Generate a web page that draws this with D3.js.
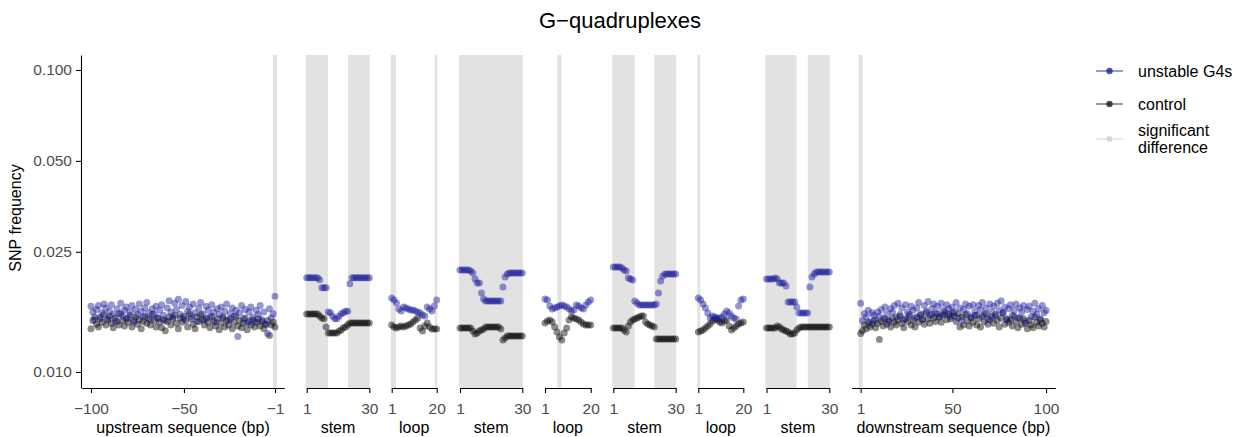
<!DOCTYPE html>
<html>
<head>
<meta charset="utf-8">
<script src="https://cdn.jsdelivr.net/npm/d3@7"></script>
<style>
  body { margin: 0; background: #fff; }
  svg { display: block; }
  text { font-family: "Liberation Sans", Arial, Helvetica, sans-serif; }
</style>
</head>
<body>
<svg id="chart" width="1249" height="437"></svg>
<script>
// ---- SNP frequency per position (unstable G4s vs control) ----
const yTicks = [0.010, 0.025, 0.050, 0.100];

const upBlue = [
  0.0165, 0.0158, 0.0149, 0.0161, 0.0166, 0.0152, 0.0157, 0.0168, 0.0163, 0.0150,
  0.0159, 0.0167, 0.0155, 0.0147, 0.0162, 0.0156, 0.0169, 0.0153, 0.0160, 0.0164,
  0.0151, 0.0158, 0.0166, 0.0146, 0.0161, 0.0155, 0.0168, 0.0159, 0.0152, 0.0163,
  0.0170, 0.0157, 0.0149, 0.0162, 0.0156, 0.0165, 0.0151, 0.0160, 0.0167, 0.0154,
  0.0148, 0.0163, 0.0172, 0.0158, 0.0152, 0.0169, 0.0161, 0.0174, 0.0155, 0.0166,
  0.0150, 0.0171, 0.0159, 0.0164, 0.0153, 0.0168, 0.0157, 0.0147, 0.0163, 0.0170,
  0.0156, 0.0149, 0.0165, 0.0160, 0.0152, 0.0167, 0.0158, 0.0146, 0.0162, 0.0155,
  0.0164, 0.0151, 0.0159, 0.0168, 0.0148, 0.0156, 0.0163, 0.0153, 0.0160, 0.0131,
  0.0157, 0.0166, 0.0150, 0.0161, 0.0145, 0.0158, 0.0164, 0.0152, 0.0147, 0.0160,
  0.0155, 0.0166, 0.0149, 0.0158, 0.0144, 0.0134, 0.0162, 0.0151, 0.0156, 0.0178
];
const upCtrl = [
  0.0139, 0.0148, 0.0152, 0.0144, 0.0141, 0.0150, 0.0146, 0.0155, 0.0143, 0.0149,
  0.0153, 0.0145, 0.0140, 0.0151, 0.0147, 0.0143, 0.0156, 0.0148, 0.0142, 0.0150,
  0.0146, 0.0154, 0.0141, 0.0148, 0.0152, 0.0144, 0.0149, 0.0139, 0.0147, 0.0153,
  0.0145, 0.0150, 0.0143, 0.0155, 0.0148, 0.0141, 0.0151, 0.0146, 0.0140, 0.0149,
  0.0137, 0.0147, 0.0152, 0.0143, 0.0150, 0.0154, 0.0145, 0.0139, 0.0151, 0.0146,
  0.0153, 0.0148, 0.0141, 0.0156, 0.0150, 0.0144, 0.0139, 0.0152, 0.0147, 0.0155,
  0.0149, 0.0143, 0.0151, 0.0146, 0.0140, 0.0153, 0.0147, 0.0142, 0.0150, 0.0138,
  0.0145, 0.0152, 0.0141, 0.0148, 0.0143, 0.0150, 0.0139, 0.0146, 0.0153, 0.0142,
  0.0148, 0.0140, 0.0145, 0.0151, 0.0138, 0.0147, 0.0143, 0.0149, 0.0141, 0.0146,
  0.0150, 0.0142, 0.0147, 0.0139, 0.0144, 0.0148, 0.0132, 0.0143, 0.0146, 0.0141
];

const stem1Blue = [0.0205, 0.0205, 0.0205, 0.0205, 0.0205, 0.0205, 0.0202, 0.0190, 0.0190, 0.0190,
  0.0158, 0.0157, 0.0153, 0.0150, 0.0150, 0.0153, 0.0156, 0.0157, 0.0159, 0.0159,
  0.0196, 0.0205, 0.0205, 0.0205, 0.0205, 0.0205, 0.0205, 0.0205, 0.0205, 0.0205];
const stem1Ctrl = [0.01556, 0.01556, 0.01556, 0.01556, 0.01556, 0.01556, 0.01532, 0.0151, 0.0150, 0.0141,
  0.01346, 0.01346, 0.01346, 0.01346, 0.01346, 0.01367, 0.01377, 0.0140, 0.0141, 0.0143,
  0.01453, 0.01453, 0.01453, 0.01453, 0.01453, 0.01453, 0.01453, 0.01453, 0.01453, 0.01453];

const loop1Blue = [0.01758, 0.01732, 0.01692, 0.01617, 0.01592, 0.01642, 0.01629, 0.01617, 0.01604, 0.01604,
  0.01592, 0.0158, 0.01568, 0.01544, 0.01532, 0.01642, 0.01617, 0.01592, 0.01654, 0.01732];
const loop1Ctrl = [0.01431, 0.01409, 0.01398, 0.01409, 0.0142, 0.01409, 0.0142, 0.01431, 0.01442, 0.01464,
  0.01486, 0.01509, 0.01398, 0.01367, 0.0142, 0.01453, 0.01409, 0.01388, 0.01388, 0.01388];

const stem2Blue = [0.02177, 0.02177, 0.02177, 0.02177, 0.02177, 0.0216, 0.02128, 0.02032, 0.01971, 0.01971,
  0.01826, 0.01745, 0.01718, 0.01718, 0.01718, 0.01718, 0.01718, 0.01718, 0.01718, 0.01718,
  0.01911, 0.02064, 0.02111, 0.02128, 0.02128, 0.02128, 0.02128, 0.02128, 0.02128, 0.02128];
const stem2Ctrl = [0.01398, 0.01398, 0.01398, 0.01398, 0.01398, 0.01398, 0.01367, 0.01336, 0.01346, 0.01367,
  0.01377, 0.01388, 0.01409, 0.01409, 0.01409, 0.01409, 0.01409, 0.01409, 0.01409, 0.01388,
  0.01276, 0.01296, 0.01316, 0.01316, 0.01316, 0.01316, 0.01316, 0.01316, 0.01316, 0.01316];

const loop2Blue = [0.01745, 0.01732, 0.01654, 0.01617, 0.01629, 0.01642, 0.01654, 0.01667, 0.01654, 0.01642,
  0.01617, 0.01592, 0.01604, 0.01667, 0.01654, 0.01629, 0.01617, 0.01667, 0.01705, 0.01732];
const loop2Ctrl = [0.01453, 0.01475, 0.01486, 0.01464, 0.01409, 0.01356, 0.01306, 0.01276, 0.01346, 0.01398,
  0.01486, 0.01521, 0.01509, 0.01498, 0.01486, 0.01464, 0.01442, 0.01431, 0.01431, 0.01431];

const stem3Blue = [0.02227, 0.02227, 0.02227, 0.02227, 0.0221, 0.02177, 0.0216, 0.02048, 0.02032, 0.02017,
  0.01718, 0.01692, 0.01667, 0.01667, 0.01667, 0.01667, 0.01667, 0.01667, 0.01667, 0.01667,
  0.0168, 0.01826, 0.02001, 0.02079, 0.02111, 0.02111, 0.02111, 0.02111, 0.02111, 0.02111];
const stem3Ctrl = [0.01398, 0.01398, 0.01398, 0.01398, 0.01398, 0.01377, 0.01356, 0.0142, 0.01464, 0.01486,
  0.01498, 0.01509, 0.01521, 0.01532, 0.01532, 0.01464, 0.01442, 0.01431, 0.0142, 0.01409,
  0.01286, 0.01286, 0.01286, 0.01286, 0.01286, 0.01286, 0.01286, 0.01286, 0.01286, 0.01286];

const loop3Blue = [0.01758, 0.01732, 0.0168, 0.01629, 0.01568, 0.01509, 0.01532, 0.01521, 0.01509, 0.01509,
  0.01521, 0.01556, 0.01592, 0.01568, 0.01532, 0.01509, 0.01498, 0.01654, 0.01732, 0.01745];
const loop3Ctrl = [0.01356, 0.01367, 0.01377, 0.01398, 0.0142, 0.01442, 0.01475, 0.01498, 0.01486, 0.01464,
  0.01453, 0.01475, 0.01486, 0.0142, 0.01377, 0.01398, 0.0142, 0.01442, 0.01453, 0.01464];

const stem4Blue = [0.02032, 0.02032, 0.02032, 0.02032, 0.02048, 0.02032, 0.01971, 0.01971, 0.01971, 0.01926,
  0.01705, 0.01705, 0.01705, 0.01705, 0.01642, 0.01568, 0.01568, 0.01568, 0.01568, 0.01568,
  0.01911, 0.02064, 0.02111, 0.02144, 0.02144, 0.02144, 0.02144, 0.02144, 0.02144, 0.02144];
const stem4Ctrl = [0.01398, 0.01398, 0.01398, 0.01398, 0.01398, 0.0142, 0.01409, 0.01388, 0.01377, 0.01367,
  0.01356, 0.01336, 0.01336, 0.01346, 0.01377, 0.01398, 0.01409, 0.01409, 0.01409, 0.01409,
  0.01409, 0.01409, 0.01409, 0.01409, 0.01409, 0.01409, 0.01409, 0.01409, 0.01409, 0.01409];

const downBlue = [
  0.0169, 0.0148, 0.0156, 0.0152, 0.0160, 0.0146, 0.0157, 0.0154, 0.0149, 0.0158,
  0.0153, 0.0161, 0.0150, 0.0164, 0.0156, 0.0147, 0.0162, 0.0158, 0.0166, 0.0152,
  0.0169, 0.0155, 0.0163, 0.0149, 0.0167, 0.0158, 0.0153, 0.0165, 0.0160, 0.0151,
  0.0163, 0.0170, 0.0156, 0.0150, 0.0166, 0.0159, 0.0171, 0.0154, 0.0162, 0.0168,
  0.0157, 0.0165, 0.0152, 0.0169, 0.0160, 0.0155, 0.0167, 0.0162, 0.0153, 0.0164,
  0.0158, 0.0170, 0.0151, 0.0163, 0.0148, 0.0161, 0.0168, 0.0156, 0.0165, 0.0152,
  0.0167, 0.0159, 0.0154, 0.0166, 0.0161, 0.0170, 0.0155, 0.0163, 0.0150, 0.0168,
  0.0158, 0.0165, 0.0153, 0.0169, 0.0160, 0.0172, 0.0157, 0.0164, 0.0149, 0.0162,
  0.0167, 0.0154, 0.0160, 0.0168, 0.0151, 0.0163, 0.0158, 0.0166, 0.0147, 0.0161,
  0.0165, 0.0152, 0.0159, 0.0169, 0.0155, 0.0162, 0.0150, 0.0166, 0.0157, 0.0160
];
const downCtrl = [
  0.0134, 0.0137, 0.0143, 0.0139, 0.0146, 0.0141, 0.0144, 0.0148, 0.0140, 0.0145,
  0.0128, 0.0147, 0.0142, 0.0150, 0.0144, 0.0148, 0.0141, 0.0151, 0.0146, 0.0143,
  0.0149, 0.0153, 0.0145, 0.0140, 0.0150, 0.0147, 0.0155, 0.0143, 0.0148, 0.0141,
  0.0152, 0.0146, 0.0154, 0.0149, 0.0144, 0.0157, 0.0150, 0.0145, 0.0155, 0.0151,
  0.0147, 0.0156, 0.0152, 0.0146, 0.0154, 0.0158, 0.0149, 0.0155, 0.0150, 0.0157,
  0.0153, 0.0147, 0.0156, 0.0141, 0.0152, 0.0143, 0.0155, 0.0148, 0.0142, 0.0151,
  0.0146, 0.0154, 0.0143, 0.0150, 0.0141, 0.0153, 0.0147, 0.0156, 0.0144, 0.0149,
  0.0152, 0.0145, 0.0155, 0.0148, 0.0141, 0.0151, 0.0157, 0.0144, 0.0150, 0.0146,
  0.0149, 0.0142, 0.0153, 0.0147, 0.0140, 0.0151, 0.0144, 0.0150, 0.0145, 0.0139,
  0.0148, 0.0143, 0.0140, 0.0152, 0.0146, 0.0142, 0.0149, 0.0145, 0.0141, 0.0147
];

// positions flagged as a significant difference, per region
const upSig = [-1];
const stem1Sig = [1, 2, 3, 4, 5, 6, 7, 8, 9, 10, 21, 22, 23, 24, 25, 26, 27, 28, 29, 30];
const loop1Sig = [1, 2, 20];
const stem2Sig = d3.range(1, 31);
const loop2Sig = [7];
const stem3Sig = [1, 2, 3, 4, 5, 6, 7, 8, 9, 10, 21, 22, 23, 24, 25, 26, 27, 28, 29, 30];
const loop3Sig = [1];
const stem4Sig = [1, 2, 3, 4, 5, 6, 7, 8, 9, 10, 11, 12, 13, 14, 21, 22, 23, 24, 25, 26, 27, 28, 29, 30];
const downSig = [1];

const upTicks = [-100, -50, -1];
const stemTicks = [1, 30];
const loopTicks = [1, 20];
const downTicks = [1, 50, 100];

const seriesNames = ["unstable G4s", "control", "significant\ndifference"];

// ---- panel layout ----
const panels = [
  { label: "upstream sequence (bp)", start: -100, blue: upBlue, ctrl: upCtrl, sig: upSig, ticks: upTicks, px: [81.8, 284.2], expand: true },
  { label: "stem", start: 1, blue: stem1Blue, ctrl: stem1Ctrl, sig: stem1Sig, ticks: stemTicks, px: [306.7, 369.3] },
  { label: "loop", start: 1, blue: loop1Blue, ctrl: loop1Ctrl, sig: loop1Sig, ticks: loopTicks, px: [391.7, 436.7] },
  { label: "stem", start: 1, blue: stem2Blue, ctrl: stem2Ctrl, sig: stem2Sig, ticks: stemTicks, px: [460, 522.3] },
  { label: "loop", start: 1, blue: loop2Blue, ctrl: loop2Ctrl, sig: loop2Sig, ticks: loopTicks, px: [545, 590.7] },
  { label: "stem", start: 1, blue: stem3Blue, ctrl: stem3Ctrl, sig: stem3Sig, ticks: stemTicks, px: [613.3, 675.7] },
  { label: "loop", start: 1, blue: loop3Blue, ctrl: loop3Ctrl, sig: loop3Sig, ticks: loopTicks, px: [698.3, 743.3] },
  { label: "stem", start: 1, blue: stem4Blue, ctrl: stem4Ctrl, sig: stem4Sig, ticks: stemTicks, px: [766.5, 829.3] },
  { label: "downstream sequence (bp)", start: 1, blue: downBlue, ctrl: downCtrl, sig: downSig, ticks: downTicks, px: [851.4, 1055.3], expand: true }
];

const panelTop = 55, panelBottom = 388;
const BLUE = "#16169a", CTRL = "#000000", SIG = "#e2e2e2";
const TICK_COL = "#4d4d4d";

const svg = d3.select("#chart");

const y = d3.scaleLog().domain([0.00885, 0.1121]).range([panelBottom, panelTop]);

svg.append("text")
  .attr("x", 620).attr("y", 28)
  .attr("text-anchor", "middle")
  .attr("font-size", 22).attr("fill", "#000")
  .text("G\u2212quadruplexes");

const defs = svg.append("defs");

panels.forEach((p, i) => {
  const n = p.blue.length;
  const lo = p.start, hi = p.start + n - 1;
  let dom = [lo, hi];
  if (p.expand) {
    const pad = (hi - lo) * 0.05;
    dom = [lo - pad, hi + pad];
  }
  const x = d3.scaleLinear().domain(dom).range(p.px);
  const g = svg.append("g");

  // significance bands, clipped to the panel
  defs.append("clipPath").attr("id", "clip" + i)
    .append("rect")
    .attr("x", p.px[0] - 1).attr("y", panelTop)
    .attr("width", p.px[1] - p.px[0] + 1.5).attr("height", panelBottom - panelTop);
  g.append("g").attr("clip-path", `url(#clip${i})`)
    .selectAll("line").data(p.sig).join("line")
    .attr("x1", d => x(d)).attr("x2", d => x(d))
    .attr("y1", panelTop).attr("y2", panelBottom)
    .attr("stroke", SIG).attr("stroke-width", 4);

  const pos = d3.range(n).map(k => p.start + k);

  g.append("g").selectAll("circle").data(pos).join("circle")
    .attr("cx", d => x(d)).attr("cy", (d, k) => y(p.ctrl[k]))
    .attr("r", 3.5).attr("fill", CTRL).attr("fill-opacity", 0.45);

  g.append("g").selectAll("circle").data(pos).join("circle")
    .attr("cx", d => x(d)).attr("cy", (d, k) => y(p.blue[k]))
    .attr("r", 3.5).attr("fill", BLUE).attr("fill-opacity", 0.45);

  // x axis
  const ax = g.append("g").attr("transform", `translate(0,${panelBottom})`)
    .call(d3.axisBottom(x).tickValues(p.ticks).tickSize(5).tickSizeOuter(0)
      .tickFormat(d => d < 0 ? "\u2212" + Math.abs(d) : String(d)));
  ax.attr("font-family", null);
  ax.select(".domain").attr("stroke", "#000").attr("stroke-width", 1.1);
  ax.selectAll(".tick line").attr("stroke", "#000").attr("stroke-width", 1.1);
  ax.selectAll(".tick text").attr("font-size", 15.5).attr("fill", TICK_COL)
    .attr("dy", null).attr("y", 26);

  g.append("text")
    .attr("x", (p.px[0] + p.px[1]) / 2).attr("y", 433)
    .attr("text-anchor", "middle").attr("font-size", 16).attr("fill", "#000")
    .text(p.label);
});

// y axis
const yAx = svg.append("g").attr("transform", `translate(81,0)`)
  .call(d3.axisLeft(y).tickValues(yTicks).tickSize(5).tickSizeOuter(0)
    .tickFormat(d3.format(".3f")));
yAx.attr("font-family", null);
yAx.select(".domain").attr("stroke", "#000").attr("stroke-width", 1.1);
yAx.selectAll(".tick line").attr("stroke", "#000").attr("stroke-width", 1.1);
yAx.selectAll(".tick text").attr("font-size", 15.5).attr("fill", TICK_COL).attr("x", -9);

svg.append("text")
  .attr("transform", "translate(21,218) rotate(-90)")
  .attr("text-anchor", "middle").attr("font-size", 16).attr("fill", "#000")
  .text("SNP frequency");

// legend
const legend = svg.append("g");
const keys = [
  { name: seriesNames[0], y: 71, line: BLUE, lineOp: 0.55, pt: BLUE, ptOp: 0.75, shape: "circle" },
  { name: seriesNames[1], y: 104, line: CTRL, lineOp: 0.5, pt: CTRL, ptOp: 0.7, shape: "circle" },
  { name: seriesNames[2], y: 139, line: SIG, lineOp: 1, pt: "#d6d6d6", ptOp: 1, shape: "square" }
];
keys.forEach(k => {
  legend.append("line").attr("x1", 1096).attr("x2", 1123).attr("y1", k.y).attr("y2", k.y)
    .attr("stroke", k.line).attr("stroke-opacity", k.lineOp).attr("stroke-width", 1.6);
  if (k.shape === "circle") {
    legend.append("circle").attr("cx", 1109.5).attr("cy", k.y).attr("r", 3.2)
      .attr("fill", k.pt).attr("fill-opacity", k.ptOp);
  } else {
    legend.append("rect").attr("x", 1107).attr("y", k.y - 2.5).attr("width", 5).attr("height", 5)
      .attr("fill", k.pt);
  }
  const lines = k.name.split("\n");
  const t = legend.append("text").attr("x", 1138).attr("font-size", 16).attr("fill", "#000");
  const y0 = k.y + 5.5 - (lines.length - 1) * 8.5;
  lines.forEach((s, j) => {
    t.append("tspan").attr("x", 1138).attr("y", y0 + j * 17).text(s);
  });
});
</script>
</body>
</html>
